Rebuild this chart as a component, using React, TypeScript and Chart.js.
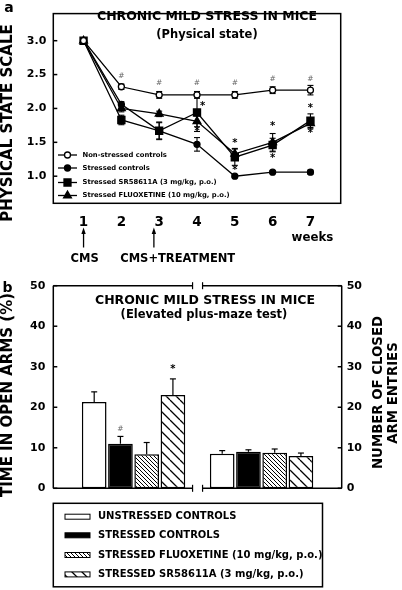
import React, { useEffect, useRef } from 'react';
import { Chart, registerables } from 'chart.js';

Chart.register(...registerables);

const FONT = '"DejaVu Sans", "Liberation Sans", Arial, sans-serif';

// ---------- Panel a: physical state ----------
const WEEKS = [1, 2, 3, 4, 5, 6, 7];
const STATE_TICKS = [1.0, 1.5, 2.0, 2.5, 3.0];
const SERIES_A_LABELS = [
  'Non-stressed controls',
  'Stressed controls',
  'Stressed SR58611A (3 mg/kg, p.o.)',
  'Stressed FLUOXETINE (10 mg/kg, p.o.)',
];
const NON_STRESSED = [3.0, 2.32, 2.2, 2.2, 2.2, 2.27, 2.27];
const NON_STRESSED_ERR = [0, 0.04, 0.05, 0.05, 0.05, 0.05, 0.07];
const STRESSED = [3.0, 2.06, 1.67, 1.47, 1.0, 1.06, 1.06];
const STRESSED_ERR = [0, 0.04, 0.13, 0.1, 0.02, 0.02, 0.03];
const SR_A = [3.0, 1.83, 1.67, 1.94, 1.28, 1.46, 1.82];
const SR_A_ERR = [0, 0.07, 0.12, 0.28, 0.12, 0.1, 0.1];
const FLUOX_A = [3.0, 2.0, 1.92, 1.81, 1.33, 1.5, 1.78];
const FLUOX_A_ERR = [0, 0.05, 0.04, 0.08, 0.08, 0.13, 0.08];
const HASH_A_WEEKS = [2, 3, 4, 5, 6, 7];
const HASH_A_VALUES = [2.48, 2.37, 2.37, 2.37, 2.43, 2.43];
const STAR_A_WEEKS = [4.15, 4, 5, 5, 6, 6, 7, 7];
const STAR_A_VALUES = [2.03, 1.66, 1.49, 1.08, 1.74, 1.27, 2.0, 1.63];
const ARROW_WEEKS = [1, 2.86];
const EVENT_LABELS = ['CMS', 'CMS+TREATMENT'];
const EVENT_LABEL_WEEKS = [1.03, 3.49];

// ---------- Panel b: elevated plus-maze ----------
const GROUP_POS = [1, 2];
const PCT_TICKS = [0, 10, 20, 30, 40, 50];
const SERIES_B_LABELS = [
  'UNSTRESSED CONTROLS',
  'STRESSED CONTROLS',
  'STRESSED FLUOXETINE (10 mg/kg, p.o.)',
  'STRESSED SR58611A (3 mg/kg, p.o.)',
];
const OPEN_ARMS = [21.3, 11.0, 8.4, 23.0];
const OPEN_ARMS_ERR = [2.5, 1.8, 2.9, 4.0];
const CLOSED_ENTRIES = [8.5, 9.0, 8.8, 8.0];
const CLOSED_ENTRIES_ERR = [0.8, 0.5, 0.9, 0.7];
const SIG_B_TEXT = ['#', '*'];
const SIG_B_SERIES = [1, 3];
const SIG_B_GROUP = [0, 0];
const SIG_B_VALUES = [14.5, 29.3];

function txt(ctx: CanvasRenderingContext2D, s: string, x: number, y: number, size: number, opts: any = {}) {
  ctx.save();
  ctx.font = `${opts.weight ?? 'bold'} ${size}px ${FONT}`;
  ctx.fillStyle = opts.color ?? '#000';
  ctx.textAlign = opts.align ?? 'center';
  ctx.textBaseline = 'middle';
  if (opts.rotate) {
    ctx.translate(x, y);
    ctx.rotate(-Math.PI / 2);
    ctx.fillText(s, 0, 0);
  } else {
    ctx.fillText(s, x, y);
  }
  ctx.restore();
}

function line(ctx: CanvasRenderingContext2D, x1: number, y1: number, x2: number, y2: number) {
  ctx.beginPath();
  ctx.moveTo(x1, y1);
  ctx.lineTo(x2, y2);
  ctx.stroke();
}

function marker(ctx: CanvasRenderingContext2D, style: string, x: number, y: number, fill: string) {
  ctx.save();
  ctx.fillStyle = fill;
  ctx.strokeStyle = '#000';
  ctx.lineWidth = 1.3;
  ctx.beginPath();
  if (style === 'circle') {
    ctx.arc(x, y, 3, 0, Math.PI * 2);
  } else if (style === 'rect') {
    ctx.rect(x - 3.5, y - 3.5, 7, 7);
  } else {
    const r = 4.5;
    ctx.moveTo(x, y - r);
    ctx.lineTo(x + r * Math.sin((2 * Math.PI) / 3), y - r * Math.cos((2 * Math.PI) / 3));
    ctx.lineTo(x + r * Math.sin((4 * Math.PI) / 3), y - r * Math.cos((4 * Math.PI) / 3));
    ctx.closePath();
  }
  ctx.fill();
  ctx.stroke();
  ctx.restore();
}

function makeHatch(ctx: CanvasRenderingContext2D, size: number, lw: number) {
  const c = document.createElement('canvas');
  c.width = size;
  c.height = size;
  const g = c.getContext('2d')!;
  g.fillStyle = '#fff';
  g.fillRect(0, 0, size, size);
  g.strokeStyle = '#000';
  g.lineWidth = lw;
  g.beginPath();
  for (const k of [-1, 0, 1]) {
    g.moveTo(k * size, 0);
    g.lineTo(k * size + size, size);
  }
  g.stroke();
  return ctx.createPattern(c, 'repeat')!;
}

const A_STYLES = ['circle', 'circle', 'rect', 'triangle'];
const A_FILLS = ['#fff', '#000', '#000', '#000'];

export default function App() {
  const refA = useRef<HTMLCanvasElement>(null);
  const refB = useRef<HTMLCanvasElement>(null);

  useEffect(() => {
    const seriesA = [NON_STRESSED, STRESSED, SR_A, FLUOX_A];
    const errA = [NON_STRESSED_ERR, STRESSED_ERR, SR_A_ERR, FLUOX_A_ERR];

    const pluginA = {
      id: 'panelA',
      beforeDatasetsDraw(chart: any) {
        const { ctx, scales } = chart;
        ctx.save();
        ctx.strokeStyle = '#000';
        ctx.lineWidth = 1.1;
        chart.data.datasets.forEach((ds: any, i: number) => {
          const meta = chart.getDatasetMeta(i);
          ds.errors.forEach((e: number, j: number) => {
            if (!e) return;
            const v = ds.data[j].y;
            const px = meta.data[j].x;
            const top = scales.y.getPixelForValue(v + e);
            const bot = scales.y.getPixelForValue(v - e);
            line(ctx, px, top, px, bot);
            line(ctx, px - 3, top, px + 3, top);
            line(ctx, px - 3, bot, px + 3, bot);
          });
        });
        ctx.restore();
      },
      afterDraw(chart: any) {
        const { ctx, chartArea: ca, scales } = chart;
        const x = scales.x;
        const y = scales.y;
        ctx.save();
        ctx.strokeStyle = '#000';
        ctx.lineWidth = 1.5;
        ctx.strokeRect(ca.left, ca.top, ca.right - ca.left, ca.bottom - ca.top);
        STATE_TICKS.forEach((v) => {
          const py = y.getPixelForValue(v);
          line(ctx, ca.left, py, ca.left + 4, py);
        });

        txt(ctx, 'a', 9, 8, 14);
        txt(ctx, 'PHYSICAL STATE SCALE', 8.5, 123, 15, { rotate: true });
        txt(ctx, 'CHRONIC MILD STRESS IN MICE', 207, 16.5, 12.5);
        txt(ctx, '(Physical state)', 207, 35, 11.5);

        // legend
        const rows = [155, 168, 182.5, 195.5];
        SERIES_A_LABELS.forEach((lab, i) => {
          ctx.lineWidth = 1.3;
          line(ctx, 58, rows[i], 77, rows[i]);
          marker(ctx, A_STYLES[i], 67.5, rows[i], A_FILLS[i]);
          txt(ctx, lab, 82.5, rows[i], 6.8, { align: 'left' });
        });

        // significance marks
        HASH_A_WEEKS.forEach((w, i) => {
          txt(ctx, '#', x.getPixelForValue(w), y.getPixelForValue(HASH_A_VALUES[i]), 7.5, { weight: 'normal', color: '#666' });
        });
        STAR_A_WEEKS.forEach((w, i) => {
          txt(ctx, '*', x.getPixelForValue(w), y.getPixelForValue(STAR_A_VALUES[i]), 10);
        });

        // arrows & events
        ctx.lineWidth = 1.3;
        ctx.fillStyle = '#000';
        ARROW_WEEKS.forEach((w) => {
          const px = x.getPixelForValue(w);
          line(ctx, px, 247.5, px, 232);
          ctx.beginPath();
          ctx.moveTo(px, 227.5);
          ctx.lineTo(px - 2.2, 234);
          ctx.lineTo(px + 2.2, 234);
          ctx.closePath();
          ctx.fill();
        });
        EVENT_LABELS.forEach((lab, i) => {
          txt(ctx, lab, x.getPixelForValue(EVENT_LABEL_WEEKS[i]), 259, 11.5);
        });
        txt(ctx, 'weeks', 312.5, 238, 11.8);
        ctx.restore();
      },
    };

    const chartA = new Chart(refA.current!, {
      type: 'line',
      data: {
        datasets: SERIES_A_LABELS.map((label, i) => ({
          label,
          data: WEEKS.map((w, j) => ({ x: w, y: seriesA[i][j] })),
          errors: errA[i],
          borderColor: '#000',
          borderWidth: 1.3,
          pointStyle: A_STYLES[i],
          pointRadius: A_STYLES[i] === 'rect' ? 5 : A_STYLES[i] === 'triangle' ? 4.5 : 3,
          pointBackgroundColor: A_FILLS[i],
          pointBorderColor: '#000',
          pointBorderWidth: 1.3,
          tension: 0,
        })) as any,
      },
      options: {
        responsive: false,
        animation: false,
        devicePixelRatio: 1,
        layout: { padding: { top: 2.7, right: 61.3, left: 0, bottom: 0 } },
        plugins: { legend: { display: false }, tooltip: { enabled: false } },
        scales: {
          x: {
            type: 'linear',
            min: 0.2,
            max: 7.8,
            afterBuildTicks: (s: any) => {
              s.ticks = WEEKS.map((v) => ({ value: v }));
            },
            afterFit: (s: any) => {
              s.height = 66.7;
            },
            grid: { display: false, drawTicks: false },
            border: { display: false },
            ticks: {
              color: '#000',
              padding: 11,
              font: { family: FONT, size: 13.5, weight: 'bold' },
              callback: (v: any) => String(v),
            },
          },
          y: {
            type: 'linear',
            min: 0.6,
            max: 3.4,
            afterBuildTicks: (s: any) => {
              s.ticks = STATE_TICKS.map((v) => ({ value: v }));
            },
            afterFit: (s: any) => {
              s.width = 53.3;
            },
            grid: { display: false, drawTicks: false },
            border: { display: false },
            ticks: {
              color: '#000',
              padding: 7,
              font: { family: FONT, size: 11, weight: 'bold' },
              callback: (v: any) => Number(v).toFixed(1),
            },
          },
        },
      } as any,
      plugins: [pluginA],
    });

    // ---------- Panel b ----------
    const ctxB = refB.current!.getContext('2d')!;
    const fills = ['#fff', '#000', makeHatch(ctxB, 4, 1), makeHatch(ctxB, 10, 1.3)];
    const groupValues = [OPEN_ARMS, CLOSED_ENTRIES];
    const groupErrs = [OPEN_ARMS_ERR, CLOSED_ENTRIES_ERR];

    const pluginB = {
      id: 'panelB',
      afterDatasetsDraw(chart: any) {
        const { ctx, scales } = chart;
        ctx.save();
        ctx.strokeStyle = '#000';
        ctx.lineWidth = 1.2;
        chart.data.datasets.forEach((ds: any, i: number) => {
          const meta = chart.getDatasetMeta(i);
          ds.errors.forEach((e: number, j: number) => {
            const v = ds.data[j].y;
            const px = meta.data[j].x;
            const base = scales.y.getPixelForValue(v);
            const top = scales.y.getPixelForValue(v + e);
            line(ctx, px, base, px, top);
            line(ctx, px - 3, top, px + 3, top);
          });
        });
        ctx.restore();
      },
      afterDraw(chart: any) {
        const { ctx, chartArea: ca, scales } = chart;
        const x = scales.x;
        const y = scales.y;
        ctx.save();
        ctx.strokeStyle = '#000';
        ctx.lineWidth = 1.5;
        // frame with broken x-axis
        const bc = x.getPixelForValue(1.5);
        const bl = bc - 5;
        const br = bc + 5;
        line(ctx, ca.left, ca.top, ca.left, ca.bottom);
        line(ctx, ca.right, ca.top, ca.right, ca.bottom);
        [ca.top, ca.bottom].forEach((py) => {
          line(ctx, ca.left, py, bl, py);
          line(ctx, br, py, ca.right, py);
          ctx.lineWidth = 1.2;
          line(ctx, bl, py - 3.5, bl, py + 3.5);
          line(ctx, br, py - 3.5, br, py + 3.5);
          ctx.lineWidth = 1.5;
        });
        PCT_TICKS.forEach((v) => {
          const py = y.getPixelForValue(v);
          line(ctx, ca.left, py, ca.left + 4, py);
          line(ctx, ca.right - 4, py, ca.right, py);
        });

        txt(ctx, 'b', 7.5, 18, 14);
        txt(ctx, 'TIME IN OPEN ARMS (%)', 8.5, 125, 15, { rotate: true });
        txt(ctx, 'NUMBER OF CLOSED', 378.5, 122.5, 13.3, { rotate: true });
        txt(ctx, 'ARM ENTRIES', 393.5, 123, 13.3, { rotate: true });
        txt(ctx, 'CHRONIC MILD STRESS IN MICE', 205, 30.7, 12.5);
        txt(ctx, '(Elevated plus-maze test)', 204, 45, 11.5);

        SIG_B_TEXT.forEach((s, i) => {
          const el = chart.getDatasetMeta(SIG_B_SERIES[i]).data[SIG_B_GROUP[i]];
          const py = y.getPixelForValue(SIG_B_VALUES[i]);
          if (s === '#') txt(ctx, s, el.x, py, 7.5, { weight: 'normal', color: '#666' });
          else txt(ctx, s, el.x, py, 10);
        });

        // legend box
        ctx.lineWidth = 1.5;
        ctx.strokeRect(53.3, 233.3, 269.2, 83.5);
        const rows = [246.7, 265.3, 285, 304.4];
        SERIES_B_LABELS.forEach((lab, i) => {
          ctx.fillStyle = fills[i] as any;
          ctx.fillRect(65, rows[i] - 2.5, 25, 5);
          ctx.lineWidth = 1;
          ctx.strokeRect(65, rows[i] - 2.5, 25, 5);
          txt(ctx, lab, 98, rows[i], 10, { align: 'left' });
        });
        ctx.restore();
      },
    };

    const chartB = new Chart(refB.current!, {
      type: 'bar',
      data: {
        datasets: SERIES_B_LABELS.map((label, i) => ({
          label,
          data: GROUP_POS.map((g, j) => ({ x: g, y: groupValues[j][i] })),
          errors: GROUP_POS.map((_, j) => groupErrs[j][i]),
          backgroundColor: fills[i],
          borderColor: '#000',
          borderWidth: 1.5,
          borderSkipped: false,
          categoryPercentage: 0.82,
          barPercentage: 0.94,
        })) as any,
      },
      options: {
        responsive: false,
        animation: false,
        devicePixelRatio: 1,
        layout: { padding: { top: 15.7, right: 0, left: 0, bottom: 0 } },
        plugins: { legend: { display: false }, tooltip: { enabled: false } },
        scales: {
          x: {
            type: 'linear',
            min: 0.373,
            max: 2.626,
            offset: false,
            afterBuildTicks: (s: any) => {
              s.ticks = GROUP_POS.map((v) => ({ value: v }));
            },
            afterFit: (s: any) => {
              s.height = 101.7;
            },
            grid: { display: false, drawTicks: false },
            border: { display: false },
            ticks: { display: false },
          },
          y: {
            type: 'linear',
            position: 'left',
            min: 0,
            max: 50,
            afterBuildTicks: (s: any) => {
              s.ticks = PCT_TICKS.map((v) => ({ value: v }));
            },
            afterFit: (s: any) => {
              s.width = 53.3;
            },
            grid: { display: false, drawTicks: false },
            border: { display: false },
            ticks: {
              color: '#000',
              padding: 8,
              font: { family: FONT, size: 11, weight: 'bold' },
            },
          },
          y2: {
            type: 'linear',
            position: 'right',
            min: 0,
            max: 50,
            afterBuildTicks: (s: any) => {
              s.ticks = PCT_TICKS.map((v) => ({ value: v }));
            },
            afterFit: (s: any) => {
              s.width = 60.3;
            },
            grid: { display: false, drawTicks: false },
            border: { display: false },
            ticks: {
              color: '#000',
              padding: 5,
              font: { family: FONT, size: 11, weight: 'bold' },
            },
          },
        },
      } as any,
      plugins: [pluginB],
    });

    return () => {
      chartA.destroy();
      chartB.destroy();
    };
  }, []);

  return (
    <div style={{ position: 'absolute', left: 0, top: 0, width: 402, height: 590, background: '#fff' }}>
      <div style={{ position: 'absolute', left: 0, top: 0, width: 402, height: 270 }}>
        <canvas ref={refA} width={402} height={270} />
      </div>
      <div style={{ position: 'absolute', left: 0, top: 270, width: 402, height: 320 }}>
        <canvas ref={refB} width={402} height={320} />
      </div>
    </div>
  );
}
